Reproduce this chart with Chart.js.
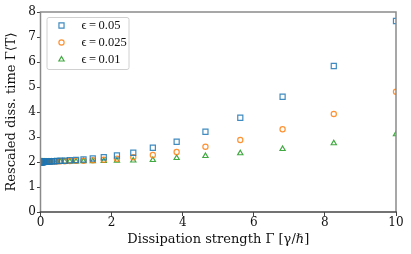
<!DOCTYPE html>
<html><head><meta charset="utf-8">
<script src="https://cdn.jsdelivr.net/npm/chart.js@4/dist/chart.umd.min.js"></script>
<style>html,body{margin:0;padding:0;background:#fff}#wrap{width:411px;height:254px}</style>
</head><body><div id="wrap"><canvas id="c" width="411" height="254"></canvas></div>
<script>
const gammaValues = [0.01,0.0121,0.0147,0.0178,0.0215,0.0261,0.0316,0.0383,0.0464,0.0562,0.0681,0.0825,
  0.1,0.121,0.147,0.178,0.215,0.261,0.316,0.383,0.464,0.562,0.681,0.825,
  1,1.21,1.47,1.78,2.15,2.61,3.16,3.83,4.64,5.62,6.81,8.25,10];
const eps005 = [2.00,2.00,2.00,2.00,2.00,2.00,2.00,2.00,2.00,2.00,2.00,2.00,
  2.01,2.01,2.01,2.01,2.02,2.02,2.03,2.03,2.04,2.05,2.05,2.07,
  2.08,2.10,2.14,2.19,2.26,2.37,2.57,2.81,3.21,3.77,4.61,5.84,7.64];
const eps0025 = [2.00,2.00,2.00,2.00,2.00,2.00,2.00,2.00,2.00,2.00,2.00,2.00,
  2.00,2.00,2.01,2.01,2.01,2.01,2.02,2.02,2.02,2.03,2.03,2.04,
  2.05,2.05,2.07,2.09,2.13,2.19,2.28,2.40,2.61,2.88,3.31,3.92,4.81];
const eps001 = [2.00,2.00,2.00,2.00,2.00,2.00,2.00,2.00,2.00,2.00,2.00,2.00,
  2.00,2.00,2.00,2.00,2.00,2.00,2.01,2.01,2.01,2.01,2.02,2.02,
  2.02,2.03,2.03,2.04,2.05,2.06,2.08,2.16,2.24,2.35,2.52,2.75,3.11];
const seriesLabels = ['ϵ\u2009=\u20090.05','ϵ\u2009=\u20090.025','ϵ\u2009=\u20090.01'];
const xTicks = [0,2,4,6,8,10];
const yTicks = [0,1,2,3,4,5,6,7,8];

const toPts = ys => gammaValues.map((x,i)=>({x:x,y:ys[i]}));
const FONT = "'DejaVu Serif', serif";

const framePlugin = {
  id:'frame',
  afterDatasetsDraw(chart){
    const {ctx, chartArea:a} = chart;
    ctx.save();
    ctx.lineWidth = 1.5;
    ctx.strokeStyle = '#8a8a8a';
    ctx.beginPath();
    ctx.moveTo(a.left, a.bottom); ctx.lineTo(a.left, a.top); ctx.lineTo(a.right, a.top); ctx.lineTo(a.right, a.bottom);
    ctx.stroke();
    ctx.strokeStyle = '#444';
    ctx.beginPath(); ctx.moveTo(a.left-0.75, a.bottom); ctx.lineTo(a.right+0.75, a.bottom); ctx.stroke();
    // legend
    const bx = a.left + 6, by = a.top + 5, bw = 82, bh = 52;
    ctx.fillStyle = 'rgba(255,255,255,0.85)';
    ctx.strokeStyle = '#d0d0d0';
    ctx.lineWidth = 1;
    ctx.beginPath();
    if (ctx.roundRect) ctx.roundRect(bx+0.5, by+0.5, bw, bh, 2); else ctx.rect(bx+0.5, by+0.5, bw, bh);
    ctx.fill(); ctx.stroke();
    chart.data.datasets.forEach((ds,i)=>{
      const yy = by + 8.5 + i*17;
      ctx.fillStyle = 'rgba(0,0,0,0)';
      ctx.strokeStyle = ds.borderColor; ctx.lineWidth = ds.borderWidth;
      Chart.helpers.drawPoint(ctx, {pointStyle: ds.pointStyle, radius: ds.pointRadius, borderWidth: ds.borderWidth}, bx + 15, yy);
      ctx.fillStyle = '#111';
      ctx.font = "12.5px 'Liberation Serif', serif";
      ctx.textBaseline = 'middle';
      ctx.textAlign = 'left';
      ctx.fillText(ds.label, bx + 35, yy);
    });
    ctx.restore();
  }
};

new Chart(document.getElementById('c'), {
  type:'scatter',
  data:{datasets:[
    {label:seriesLabels[0], data:toPts(eps005), pointStyle:'rect', pointRadius:3.6, borderWidth:1.2,
     borderColor:'rgba(31,119,180,0.85)', backgroundColor:'rgba(255,255,255,0)'},
    {label:seriesLabels[1], data:toPts(eps0025), pointStyle:'circle', pointRadius:2.6, borderWidth:1.2,
     borderColor:'rgba(255,127,14,0.85)', backgroundColor:'rgba(255,255,255,0)'},
    {label:seriesLabels[2], data:toPts(eps001), pointStyle:'triangle', pointRadius:3, borderWidth:1.2,
     borderColor:'rgba(44,160,44,0.9)', backgroundColor:'rgba(255,255,255,0)'}
  ]},
  options:{
    responsive:false, animation:false, devicePixelRatio:1,
    layout:{padding:{left:4,right:15,top:12,bottom:7}},
    plugins:{legend:{display:false}, tooltip:{enabled:false}},
    scales:{
      x:{type:'linear', min:0, max:10,
        afterBuildTicks(s){ s.ticks = xTicks.map(v=>({value:v})); },
        afterFit(s){ s.height = 35; },
        grid:{drawOnChartArea:false, drawTicks:true, tickLength:4, tickColor:'#444', tickWidth:1},
        border:{display:false},
        ticks:{font:{family:FONT,size:12}, color:'#111', padding:0, maxRotation:0},
        title:{display:true, text:'Dissipation strength Γ [γ/ℏ]', font:{family:FONT,size:13}, color:'#111', padding:{top:0,bottom:0}}
      },
      y:{type:'linear', min:0, max:8,
        afterBuildTicks(s){ s.ticks = yTicks.map(v=>({value:v})); },
        afterFit(s){ s.width = 36.5; },
        grid:{drawOnChartArea:false, drawTicks:true, tickLength:3.5, tickColor:'#444', tickWidth:1},
        border:{display:false},
        ticks:{font:{family:FONT,size:12}, color:'#111', padding:1},
        title:{display:true, text:'Rescaled diss. time Γ⟨T⟩', font:{family:FONT,size:13}, color:'#111', padding:{top:0,bottom:1}}
      }
    }
  },
  plugins:[framePlugin]
});
</script></body></html>
